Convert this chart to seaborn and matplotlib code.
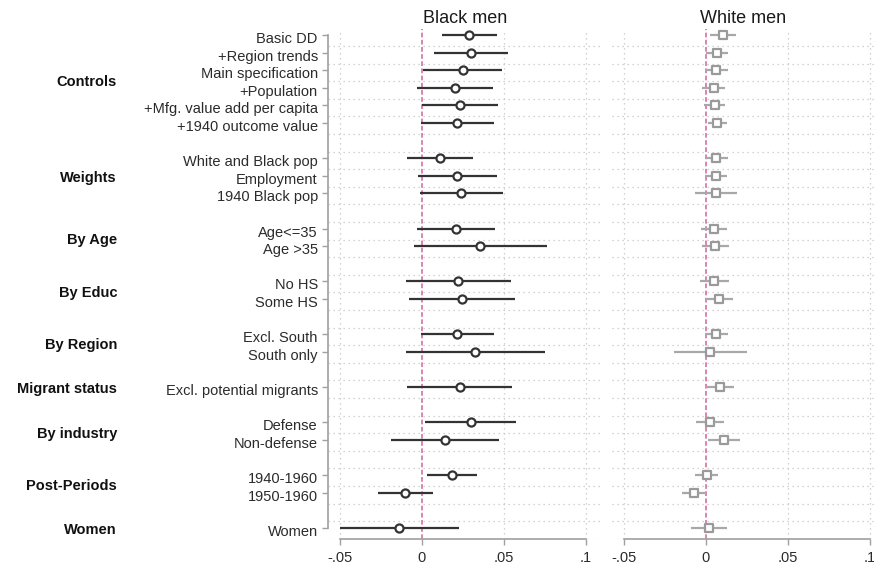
import numpy as np
import pandas as pd
import matplotlib
matplotlib.use("Agg")
import matplotlib.pyplot as plt
import matplotlib.transforms as mtransforms
import seaborn as sns

# ---------------- data ----------------
group_names = ["Controls", "Weights", "By Age", "By Educ", "By Region",
               "Migrant status", "By industry", "Post-Periods", "Women"]
group_rows = [
    ["Basic DD", "+Region trends", "Main specification", "+Population",
     "+Mfg. value add per capita", "+1940 outcome value"],
    ["White and Black pop", "Employment", "1940 Black pop"],
    ["Age<=35", "Age >35"],
    ["No HS", "Some HS"],
    ["Excl. South", "South only"],
    ["Excl. potential migrants"],
    ["Defense", "Non-defense"],
    ["1940-1960", "1950-1960"],
    ["Women"],
]

black_est = [0.0288, 0.0301, 0.0248, 0.0201, 0.0230, 0.0211,
             0.0108, 0.0215, 0.0240,
             0.0205, 0.0356,
             0.0219, 0.0246,
             0.0215, 0.0325,
             0.0230,
             0.0297, 0.0138,
             0.0185, -0.0102,
             -0.0138]
black_lo = [0.0119, 0.0073, 0.0004, -0.0031, -0.0002, -0.0008,
            -0.0092, -0.0023, -0.0013,
            -0.0031, -0.0051,
            -0.0100, -0.0077,
            -0.0006, -0.0100,
            -0.0094,
            0.0020, -0.0191,
            0.0032, -0.0271,
            -0.0498]
black_hi = [0.0457, 0.0526, 0.0490, 0.0435, 0.0463, 0.0437,
            0.0309, 0.0459, 0.0492,
            0.0447, 0.0762,
            0.0543, 0.0569,
            0.0439, 0.0752,
            0.0549,
            0.0575, 0.0469,
            0.0337, 0.0065,
            0.0223]

white_est = [0.0106, 0.0065, 0.0059, 0.0047, 0.0053, 0.0067,
             0.0061, 0.0059, 0.0059,
             0.0049, 0.0055,
             0.0049, 0.0081,
             0.0061, 0.0026,
             0.0087,
             0.0022, 0.0110,
             0.0004, -0.0075,
             0.0016]
white_lo = [0.0026, 0.0000, -0.0004, -0.0024, -0.0010, 0.0010,
            0.0000, -0.0004, -0.0069,
            -0.0028, -0.0024,
            -0.0039, 0.0000,
            -0.0004, -0.0195,
            0.0008,
            -0.0063, 0.0014,
            -0.0065, -0.0148,
            -0.0093]
white_hi = [0.0183, 0.0132, 0.0132, 0.0118, 0.0118, 0.0126,
            0.0132, 0.0130, 0.0191,
            0.0130, 0.0138,
            0.0138, 0.0165,
            0.0136, 0.0248,
            0.0169,
            0.0108, 0.0207,
            0.0071, 0.0000,
            0.0126]

x_ticks = [-0.05, 0, 0.05, 0.1]
x_ticklabels = ["-.05", "0", ".05", ".1"]
panel_titles = ["Black men", "White men"]

# ---------------- layout of rows (one empty slot between groups) -------------
labels, slots, group_centers = [], [], []
pos = 0
for rows in group_rows:
    start = pos
    for r in rows:
        labels.append(r)
        slots.append(pos)
        pos += 1
    group_centers.append((start + pos - 1) / 2)
    pos += 1
n_slots = pos - 1

df_b = pd.DataFrame({"label": labels, "slot": slots, "est": black_est,
                     "lo": black_lo, "hi": black_hi})
df_w = pd.DataFrame({"label": labels, "slot": slots, "est": white_est,
                     "lo": white_lo, "hi": white_hi})

# ---------------- styling ----------------
sns.set_theme(style="white")
plt.rcParams["font.family"] = ["Liberation Sans", "DejaVu Sans"]

W, H = 874, 569
fig = plt.figure(figsize=(W / 100, H / 100), dpi=100)

px_per_slot = 17.6
top_px, bot_px, first_px = 29.0, 539.3, 35.0
y_top = (top_px - first_px) / px_per_slot
y_bot = (bot_px - first_px) / px_per_slot
ax_b = fig.add_axes([328 / W, 1 - bot_px / H, 275 / W, (bot_px - top_px) / H])
ax_w = fig.add_axes([612 / W, 1 - bot_px / H, 262 / W, (bot_px - top_px) / H])

scale = 1640.0
xlims = [(-0.05 - 12 / scale, 0.1 + 17 / scale),
         (-0.05 - 12 / scale, 0.1 + 4 / scale)]

axis_gray = "#a0a0a0"
grid_gray = "#c4c4c4"
text_col = "#2b2b2b"
pink = "#d4709f"

configs = [
    (ax_b, df_b, "#333333", "#333333", "o", 34),
    (ax_w, df_w, "#a8a8a8", "#9a9a9a", "s", 34),
]

down = mtransforms.ScaledTranslation(0, -2.5 / 100, fig.dpi_scale_trans)

for i, (ax, df, lcol, mcol, mk, ms) in enumerate(configs):
    ax.set_facecolor("white")
    ax.set_xlim(*xlims[i])
    ax.set_ylim(y_bot, y_top)

    for gy in np.arange(0, n_slots - 0.5) + 0.62:
        ax.axhline(gy, color=grid_gray, lw=0.9, ls=(0, (1, 3)), zorder=0)
    for gx in [-0.05, 0.05, 0.1]:
        ax.axvline(gx, color=grid_gray, lw=0.9, ls=(0, (1, 3)), zorder=0)

    ax.axvline(0, color=pink, lw=1.2, ls=(0, (2.8, 1.5)), zorder=1)

    ax.hlines(df["slot"], df["lo"], df["hi"], color=lcol, lw=1.6, zorder=2)
    sns.scatterplot(data=df, x="est", y="slot", ax=ax, marker=mk, s=ms,
                    color="white", edgecolor=mcol, linewidth=1.6, zorder=3,
                    legend=False)
    ax.set_xlabel("")
    ax.set_ylabel("")
    ax.set_xlim(*xlims[i])
    ax.set_ylim(y_bot, y_top)

    ax.set_title(panel_titles[i], fontsize=13, color="#1a1a1a", pad=4)

    ax.set_xticks(x_ticks)
    ax.set_xticklabels(x_ticklabels, fontsize=10.5, color=text_col)
    ax.tick_params(axis="x", direction="out", length=4.2, width=1.0,
                   color=axis_gray, pad=4, bottom=True)

    for side in ["top", "right"]:
        ax.spines[side].set_visible(False)
    ax.spines["bottom"].set_color(axis_gray)
    ax.spines["bottom"].set_linewidth(1.2)
    ax.spines["bottom"].set_bounds(-0.05, 0.1)

    if i == 0:
        ax.set_yticks(df["slot"])
        ax.set_yticklabels(df["label"], fontsize=10.5, color=text_col)
        ax.tick_params(axis="y", direction="out", length=4.3, width=1.0,
                       color=axis_gray, pad=3, left=True)
        for lab in ax.get_yticklabels():
            lab.set_transform(lab.get_transform() + down)
        ax.spines["left"].set_color(axis_gray)
        ax.spines["left"].set_linewidth(1.2)
        ax.spines["left"].set_bounds(0, n_slots - 1)
    else:
        ax.set_yticks([])
        ax.spines["left"].set_visible(False)

trans = mtransforms.blended_transform_factory(fig.transFigure, ax_b.transData) + down
for name, yc in zip(group_names, group_centers):
    fig.text(117 / W, yc, name, transform=trans, ha="right", va="center",
             fontsize=10.5, fontweight="bold", color="#111111")

fig.savefig("out.png", dpi=100, facecolor="white")
